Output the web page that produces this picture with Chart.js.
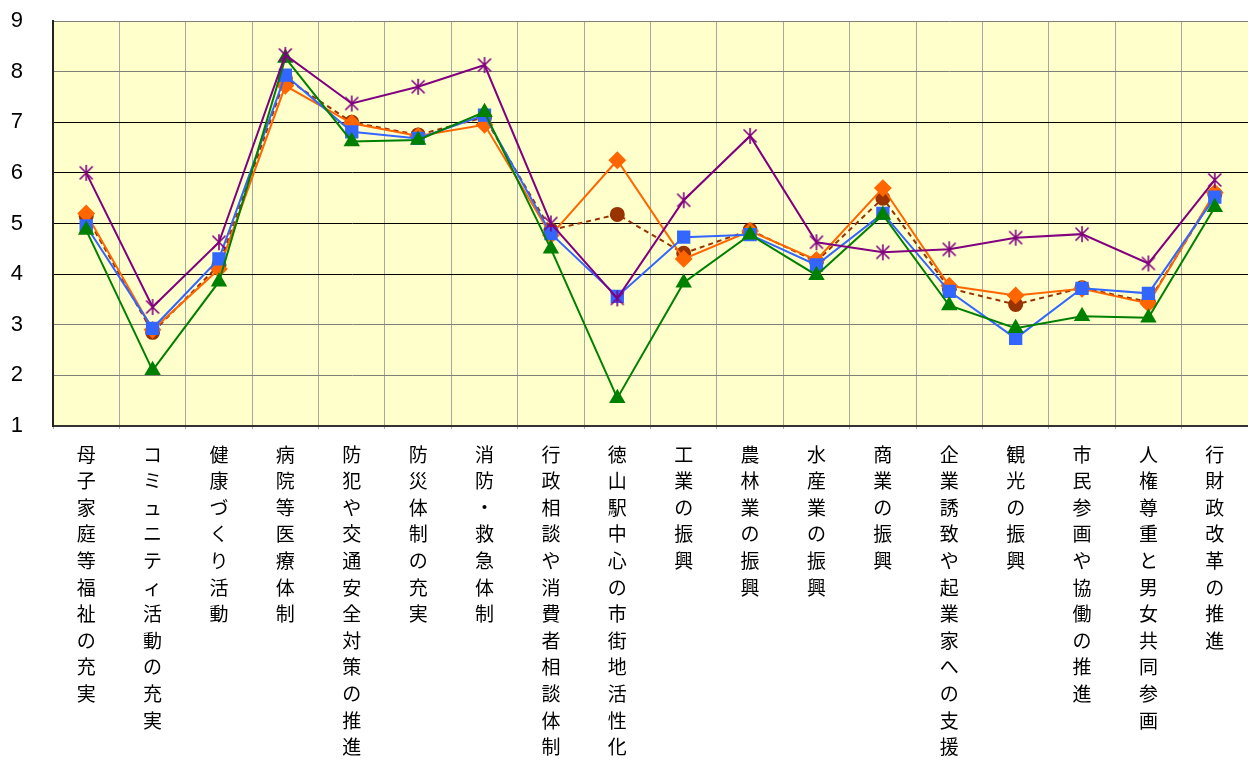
<!DOCTYPE html>
<html>
<head>
<meta charset="utf-8">
<script src="https://cdn.jsdelivr.net/npm/chart.js@4"></script>
<style>
  html, body { margin: 0; padding: 0; background: #fff; }
  #chart { display: block; }
</style>
</head>
<body>
<canvas id="chart" width="1248" height="762"></canvas>
<script>
// categories (x axis)
const categories = [
    '母子家庭等福祉の充実', 'コミュニティ活動の充実', '健康づくり活動', '病院等医療体制',
    '防犯や交通安全対策の推進', '防災体制の充実', '消防・救急体制', '行政相談や消費者相談体制',
    '徳山駅中心の市街地活性化', '工業の振興', '農林業の振興', '水産業の振興', '商業の振興',
    '企業誘致や起業家への支援', '観光の振興', '市民参画や協働の推進', '人権尊重と男女共同参画',
    '行財政改革の推進'
];

// series values
const brownValues  = [5.15, 2.85, 4.18, 7.87, 7.00, 6.75, 7.10, 4.87, 5.18, 4.41, 4.87, 4.25, 5.50, 3.72, 3.40, 3.73, 3.45, 5.58];
const orangeValues = [5.20, 2.90, 4.10, 7.72, 6.98, 6.73, 6.95, 4.77, 6.25, 4.30, 4.85, 4.28, 5.70, 3.77, 3.58, 3.71, 3.42, 5.61];
const blueValues   = [4.95, 2.93, 4.30, 7.93, 6.81, 6.68, 7.14, 4.80, 3.56, 4.73, 4.78, 4.18, 5.20, 3.66, 2.73, 3.72, 3.62, 5.52];
const greenValues  = [4.87, 2.10, 3.85, 8.27, 6.62, 6.65, 7.20, 4.50, 1.55, 3.83, 4.78, 3.98, 5.17, 3.38, 2.93, 3.17, 3.14, 5.32];
const purpleValues = [6.00, 3.35, 4.63, 8.33, 7.37, 7.70, 8.13, 5.00, 3.52, 5.46, 6.73, 4.63, 4.43, 4.49, 4.72, 4.79, 4.21, 5.86];

// y axis ticks
const yMin = 1;
const yMax = 9;

// Excel style asterisk marker: X plus a vertical bar
function makeStar(color) {
    const c = document.createElement('canvas');
    c.width = 18;
    c.height = 18;
    const g = c.getContext('2d');
    g.strokeStyle = color;
    g.lineWidth = 1.6;
    g.beginPath();
    g.moveTo(2.5, 2.5); g.lineTo(15.5, 15.5);
    g.moveTo(15.5, 2.5); g.lineTo(2.5, 15.5);
    g.moveTo(9, 1); g.lineTo(9, 17);
    g.stroke();
    return c;
}

// fills the plot area with the pale yellow background
const plotBackground = {
    id: 'plotBackground',
    beforeDraw(chart) {
        const { ctx, chartArea: a } = chart;
        ctx.save();
        ctx.fillStyle = '#fff';
        ctx.fillRect(0, 0, chart.width, chart.height);
        ctx.fillStyle = '#FFFFCC';
        ctx.fillRect(a.left, a.top, a.right - a.left, a.bottom - a.top);
        ctx.restore();
    }
};

function series(label, data, color, extra) {
    return Object.assign({
        label: label,
        data: data,
        borderColor: color,
        backgroundColor: color,
        pointBackgroundColor: color,
        pointBorderColor: color,
        borderWidth: 2,
        tension: 0,
        fill: false,
        clip: 10
    }, extra);
}

new Chart(document.getElementById('chart'), {
    type: 'line',
    data: {
        labels: categories,
        datasets: [
            series('E', purpleValues, '#800080', { pointStyle: makeStar('#800080'), pointRadius: 9 }),
            series('D', greenValues, '#008000', { pointStyle: 'triangle', pointRadius: 7.5 }),
            series('C', blueValues, '#3366FF', { pointStyle: 'rect', pointRadius: 8 }),
            series('B', orangeValues, '#FF6600', { pointStyle: 'rectRot', pointRadius: 7.5 }),
            series('A', brownValues, '#993300', { pointStyle: 'circle', pointRadius: 6.5, borderDash: [5, 4] })
        ]
    },
    options: {
        responsive: false,
        animation: false,
        devicePixelRatio: 1,
        layout: { autoPadding: false, padding: { top: 21, right: 0, left: 0, bottom: 0 } },
        plugins: {
            legend: { display: false },
            tooltip: { enabled: false }
        },
        scales: {
            x: {
                offset: true,
                grid: {
                    offset: true,
                    color: '#A8A8A0',
                    lineWidth: 1,
                    drawTicks: true,
                    tickLength: 3
                },
                border: { color: '#333', width: 2 },
                ticks: {
                    autoSkip: false,
                    maxRotation: 0,
                    minRotation: 0,
                    padding: 12,
                    color: '#000',
                    font: { family: '"Noto Sans CJK JP", sans-serif', size: 19, lineHeight: 1.4 },
                    callback: function(value, index) {
                        return Array.from(categories[index]);
                    }
                },
                afterFit: function(scale) {
                    scale.height = 336;
                    scale.paddingLeft = 0;
                    scale.paddingRight = 0;
                }
            },
            y: {
                min: yMin,
                max: yMax,
                grid: {
                    drawTicks: false,
                    color: function(ctx) {
                        const v = ctx.tick && ctx.tick.value;
                        return (v >= 4 && v <= 7) ? '#000' : '#808078';
                    }
                },
                border: { color: '#222', width: 2 },
                ticks: {
                    stepSize: 1,
                    padding: 30,
                    color: '#000',
                    font: { family: '"Liberation Sans", Arial, sans-serif', size: 22 }
                },
                afterFit: function(scale) {
                    scale.width = 53;
                    scale.paddingTop = 0;
                    scale.paddingBottom = 0;
                }
            }
        }
    },
    plugins: [plotBackground]
});
</script>
</body>
</html>
